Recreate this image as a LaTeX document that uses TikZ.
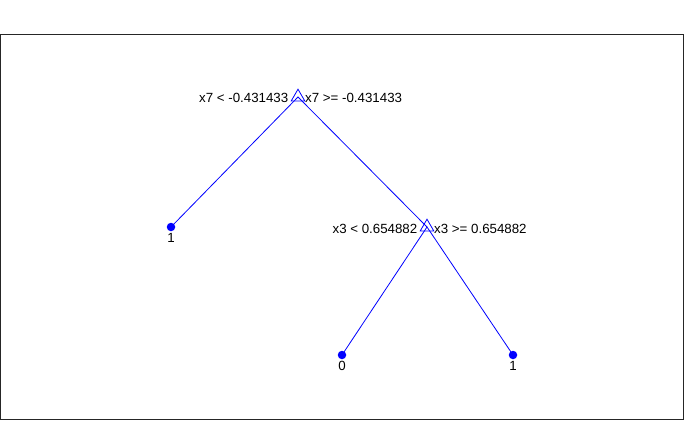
\documentclass[tikz,border=0pt]{standalone}
\usepackage{fontspec}
\setmainfont{Liberation Sans}
\usetikzlibrary{shapes.geometric}
\definecolor{axgray}{rgb}{0.15,0.15,0.15}
\begin{document}
\begin{tikzpicture}[x=1pt,y=-1pt,
    edge/.style={blue,line width=0.8pt},
    tri/.style={regular polygon,regular polygon sides=3,draw=blue,line width=0.8pt,minimum size=15.6pt,inner sep=0pt},
    leaf/.style={circle,fill=blue,inner sep=0pt,minimum size=8.5pt},
    lbl/.style={inner sep=0pt,font=\fontsize{13.3}{15}\selectfont}]
    \useasboundingbox (0,0) rectangle (684,420);
    \draw[axgray,line width=0.9pt] (0.5,34.5) rectangle (683.5,419.5);
    \coordinate (root) at (298,97);
    \coordinate (split) at (427,227);
    \coordinate (leafa) at (171,227);
    \coordinate (leafb) at (342,355);
    \coordinate (leafc) at (513,355);
    \draw[edge] (leafa) -- (root) -- (split);
    \draw[edge] (leafb) -- (split) -- (leafc);
    \node[tri] (roottri) at (root) {};
    \node[tri] (splittri) at (split) {};
    \node[leaf] (leafadot) at (leafa) {};
    \node[leaf] (leafbdot) at (leafb) {};
    \node[leaf] (leafcdot) at (leafc) {};
    \node[lbl,anchor=east] (rootleft) at ([xshift=-9.5pt,yshift=-1pt]root) {x7 < -0.431433};
    \node[lbl,anchor=west] (rootright) at ([xshift=7pt,yshift=-1pt]root) {x7 >= -0.431433};
    \node[lbl,anchor=east] (splitleft) at ([xshift=-9.5pt,yshift=-1.5pt]split) {x3 < 0.654882};
    \node[lbl,anchor=west] (splitright) at ([xshift=7pt,yshift=-1.5pt]split) {x3 >= 0.654882};
    \node[lbl] (leafalbl) at ([yshift=-11pt]leafa) {1};
    \node[lbl] (leafblbl) at ([yshift=-11pt]leafb) {0};
    \node[lbl] (leafclbl) at ([yshift=-11pt]leafc) {1};
\end{tikzpicture}
\end{document}
